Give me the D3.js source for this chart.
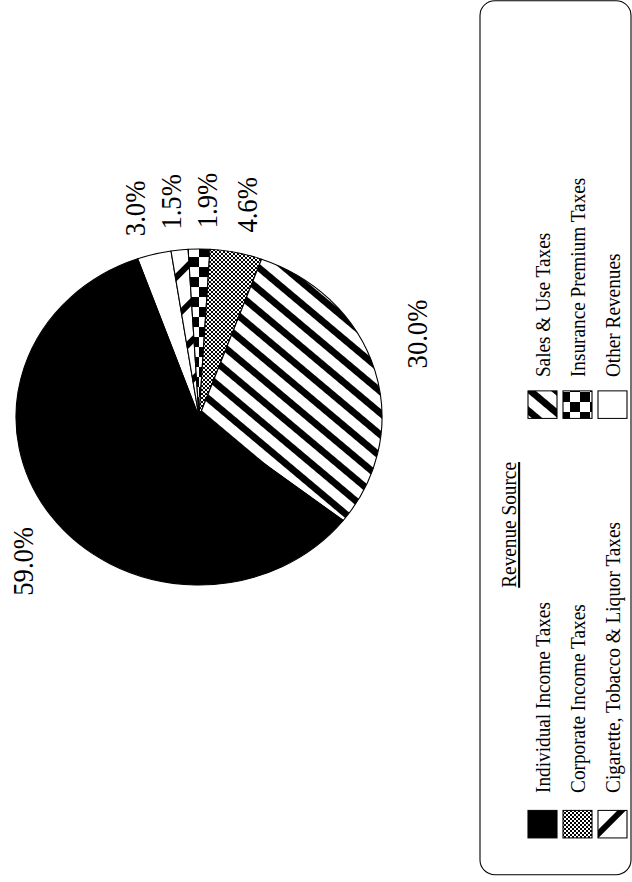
<!DOCTYPE html>
<html>
<head>
<meta charset="utf-8">
<script src="https://cdn.jsdelivr.net/npm/d3@7/dist/d3.min.js"></script>
<style>
  html, body { margin: 0; padding: 0; background: #ffffff; }
  svg { display: block; }
  text { font-family: "Liberation Serif", "Times New Roman", serif; fill: #000; }
</style>
</head>
<body>
<svg id="chart" width="632" height="882"></svg>
<script>
// Revenue sources in the order the slices run around the pie
const sources = [
  "Other Revenues",
  "Cigarette, Tobacco & Liquor Taxes",
  "Insurance Premium Taxes",
  "Corporate Income Taxes",
  "Sales & Use Taxes",
  "Individual Income Taxes"
];
// Share of total revenue, percent
const shares = [3.0, 1.5, 1.9, 4.6, 30.0, 59.0];

// Legend layout: two columns of three entries
const legendColumns = [
  ["Individual Income Taxes", "Corporate Income Taxes", "Cigarette, Tobacco & Liquor Taxes"],
  ["Sales & Use Taxes", "Insurance Premium Taxes", "Other Revenues"]
];
const legendTitle = "Revenue Source";

// Fill used for each source
const fillFor = {
  "Individual Income Taxes": "#000",
  "Sales & Use Taxes": "url(#pat-stripes)",
  "Corporate Income Taxes": "url(#pat-stipple)",
  "Insurance Premium Taxes": "url(#pat-checker)",
  "Cigarette, Tobacco & Liquor Taxes": "url(#pat-bars)",
  "Other Revenues": "#fff"
};

const W = 632, H = 882;
const K = 0.918;               // page is laid out sideways and slightly squeezed along its length
const svg = d3.select("#chart");
const defs = svg.append("defs");

// Patterns are defined in page-pixel units (undo the squeeze)
const unsqueeze = `scale(${1 / K},1)`;

// Sales: heavy diagonal stripes
const stripes = defs.append("pattern")
  .attr("id", "pat-stripes").attr("patternUnits", "userSpaceOnUse")
  .attr("width", 16.6).attr("height", 16.6)
  .attr("patternTransform", `${unsqueeze} rotate(40)`);
stripes.append("rect").attr("width", 16.6).attr("height", 16.6).attr("fill", "#fff");
stripes.append("rect").attr("width", 6.8).attr("height", 16.6).attr("fill", "#000");

// Cigarette, tobacco & liquor: widely spaced diagonal bars
const bars = defs.append("pattern")
  .attr("id", "pat-bars").attr("patternUnits", "userSpaceOnUse")
  .attr("width", 28).attr("height", 28)
  .attr("patternTransform", `${unsqueeze} rotate(-45)`);
bars.append("rect").attr("width", 28).attr("height", 28).attr("fill", "#fff");
bars.append("rect").attr("width", 6).attr("height", 28).attr("fill", "#000");

// Insurance premium: checkerboard
const checker = defs.append("pattern")
  .attr("id", "pat-checker").attr("patternUnits", "userSpaceOnUse")
  .attr("width", 20).attr("height", 20)
  .attr("patternTransform", unsqueeze);
checker.append("rect").attr("width", 20).attr("height", 20).attr("fill", "#fff");
checker.append("rect").attr("width", 10).attr("height", 10).attr("fill", "#000");
checker.append("rect").attr("x", 10).attr("y", 10).attr("width", 10).attr("height", 10).attr("fill", "#000");

// Corporate income: fine stipple
const stipple = defs.append("pattern")
  .attr("id", "pat-stipple").attr("patternUnits", "userSpaceOnUse")
  .attr("width", 4).attr("height", 4)
  .attr("patternTransform", unsqueeze);
stipple.append("rect").attr("width", 4).attr("height", 4).attr("fill", "#fff");
stipple.append("rect").attr("width", 2).attr("height", 2).attr("fill", "#000");
stipple.append("rect").attr("x", 2).attr("y", 2).attr("width", 2).attr("height", 2).attr("fill", "#000");

// Whole chart is drawn in a landscape frame and turned to read bottom-to-top
const frame = svg.append("g")
  .attr("transform", `translate(0,${H}) rotate(-90) scale(${K},1)`);

// ---- Pie ----
const R = 183;
const cx = 506.5, cy = 199;
const start = 70.4 * Math.PI / 180;

const pie = d3.pie().sort(null).value(d => d)
  .startAngle(start).endAngle(start + 2 * Math.PI);
const arcs = pie(shares);
const arc = d3.arc().innerRadius(0).outerRadius(R);

const pieG = frame.append("g").attr("transform", `translate(${cx},${cy})`);
pieG.selectAll("path.slice")
  .data(arcs)
  .join("path")
  .attr("class", "slice")
  .attr("d", arc)
  .attr("fill", (d, i) => fillFor[sources[i]])
  .attr("stroke", "#000")
  .attr("stroke-width", 1.1)
  .attr("stroke-linejoin", "round");

// Percent labels sit on a ring outside the pie, at each slice's middle angle.
// They are kept inside the plot band and pushed apart where they crowd.
const LR = R + 53;
const bandTop = 23 - cy, bandBottom = 417 - cy;   // limits on the label centre, pie-relative
const minGap = 36;
const labels = arcs.map(d => {
  let a = (d.startAngle + d.endAngle) / 2;
  let x = LR * Math.sin(a), y = -LR * Math.cos(a);
  if (y < bandTop || y > bandBottom) {
    y = Math.max(bandTop, Math.min(bandBottom, y));
    x = Math.sign(x) * Math.sqrt(LR * LR - y * y);
  }
  return { d, x, y };
});
// spread the crowded labels on the right side of the ring
const right = labels.filter(l => l.x > 0 && l.y < bandBottom - 1).sort((a, b) => a.y - b.y);
for (let iter = 0; iter < 60; iter++) {
  for (let i = 1; i < right.length; i++) {
    const gap = right[i].y - right[i - 1].y;
    if (gap < minGap) {
      const push = (minGap - gap) / 2;
      right[i - 1].y -= push;
      right[i].y += push;
    }
  }
}
right.forEach(l => { l.x = Math.sqrt(Math.max(0, LR * LR - l.y * l.y)); });

const fmt = d3.format(".1f");
pieG.selectAll("text.pct")
  .data(labels)
  .join("text")
  .attr("class", "pct")
  .attr("transform", l => `translate(${l.x},${l.y})`)
  .attr("text-anchor", "middle")
  .attr("dominant-baseline", "central")
  .attr("font-size", 29)
  .text(l => fmt(l.d.value) + "%");

// ---- Legend ----
const box = { x: 8, y: 480, w: 952, h: 151 };
frame.append("rect")
  .attr("x", box.x).attr("y", box.y)
  .attr("width", box.w).attr("height", box.h)
  .attr("rx", 16).attr("ry", 15)
  .attr("fill", "none").attr("stroke", "#000").attr("stroke-width", 1.1);

frame.append("text")
  .attr("x", 389).attr("y", 516)
  .attr("text-anchor", "middle")
  .attr("font-size", 21)
  .attr("text-decoration", "underline")
  .text(legendTitle);

const swatchX = [48, 505];
const textX = [97, 550];
const rowY = [528, 563, 598];
const sw = 30, sh = 29;

legendColumns.forEach((col, c) => {
  const g = frame.append("g");
  g.selectAll("rect.sw")
    .data(col)
    .join("rect")
    .attr("class", "sw")
    .attr("x", swatchX[c])
    .attr("y", (d, i) => rowY[i])
    .attr("width", sw).attr("height", sh)
    .attr("fill", d => fillFor[d])
    .attr("stroke", "#000").attr("stroke-width", 1.1);
  g.selectAll("text.lg")
    .data(col)
    .join("text")
    .attr("class", "lg")
    .attr("x", textX[c])
    .attr("y", (d, i) => rowY[i] + 22.5)
    .attr("font-size", 21)
    .text(d => d);
});
</script>
</body>
</html>
